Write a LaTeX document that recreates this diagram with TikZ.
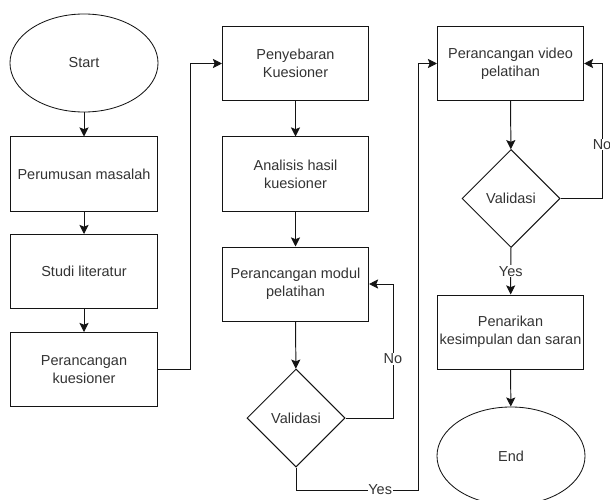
\documentclass[tikz,border=0pt]{standalone}
\usepackage{fontspec}
\setmainfont{Liberation Sans}
\usetikzlibrary{shapes.geometric,arrows.meta}
\definecolor{flowtext}{RGB}{51, 51, 51}
\definecolor{flowline}{RGB}{20, 20, 20}

\begin{document}
\begin{tikzpicture}[x=0.025cm, y=-0.025cm,
    every node/.style={font=\fontsize{10.3}{12.8}\selectfont, text=flowtext},
    proc/.style={draw=flowline, line width=0.7pt, minimum width=3.65cm, minimum height=1.85cm, align=center, inner sep=0pt},
    term/.style={draw=flowline, ellipse, line width=0.6pt, minimum width=3.7cm, minimum height=2.45cm, inner sep=0pt},
    dec/.style={draw=flowline, diamond, line width=0.7pt, minimum width=2.45cm, minimum height=2.45cm, inner sep=0pt},
    arr/.style={draw=flowline, line width=0.7pt, -{Stealth[length=6.5pt, width=6.5pt, inset=1.3pt]}},
    lbl/.style={fill=white, inner sep=0.5pt}]
    \clip (0, 0) rectangle (610, 499);

    % first column
    \node[term] (start) at (84, 63) {Start};
    \node[proc] (rumus) at (84, 174) {Perumusan masalah};
    \node[proc] (studi) at (84, 271.5) {Studi literatur};
    \node[proc] (kues) at (84, 369.5) {Perancangan\\kuesioner};

    % second column
    \node[proc] (sebar) at (295.5, 63.5) {Penyebaran\\Kuesioner};
    \node[proc] (analisis) at (295.5, 174) {Analisis hasil\\kuesioner};
    \node[proc] (modul) at (295.5, 284) {Perancangan modul\\pelatihan};
    \node[dec] (valmodul) at (296, 418) {Validasi};

    % third column
    \node[proc] (video) at (510.5, 63.5) {Perancangan video\\pelatihan};
    \node[dec] (valvideo) at (511, 198.5) {Validasi};
    \node[proc] (tarik) at (510.5, 332) {Penarikan\\kesimpulan dan saran};
    \node[term] (finish) at (511, 456) {End};

    % turning points of the long connectors
    \coordinate (kuesturn) at (190, 369.5);
    \coordinate (modulno) at (393, 284);
    \coordinate (modulyes) at (418, 490);
    \coordinate (videono) at (602, 63.5);

    % straight flow
    \draw[arr] (start) -- (rumus);
    \draw[arr] (rumus) -- (studi);
    \draw[arr] (studi) -- (kues);
    \draw[arr] (sebar) -- (analisis);
    \draw[arr] (analisis) -- (modul);
    \draw[arr] (modul) -- (valmodul);
    \draw[arr] (video) -- (valvideo);
    \draw[arr] (valvideo) -- node[lbl] {Yes} (tarik);
    \draw[arr] (tarik) -- (finish);

    % jumps between columns
    \draw[arr] (kues.east) -- (kuesturn) |- (sebar.west);
    \draw[arr] (valmodul.south) |- node[lbl, pos=0.845] {Yes} (modulyes) |- (video.west);

    % loops back on "No"
    \draw[arr] (valmodul.east) -| node[lbl, pos=0.72] {No} (modulno) -- (modul.east);
    \draw[arr] (valvideo.east) -| node[lbl, pos=0.70] {No} (videono) -- (video.east);
\end{tikzpicture}
\end{document}
